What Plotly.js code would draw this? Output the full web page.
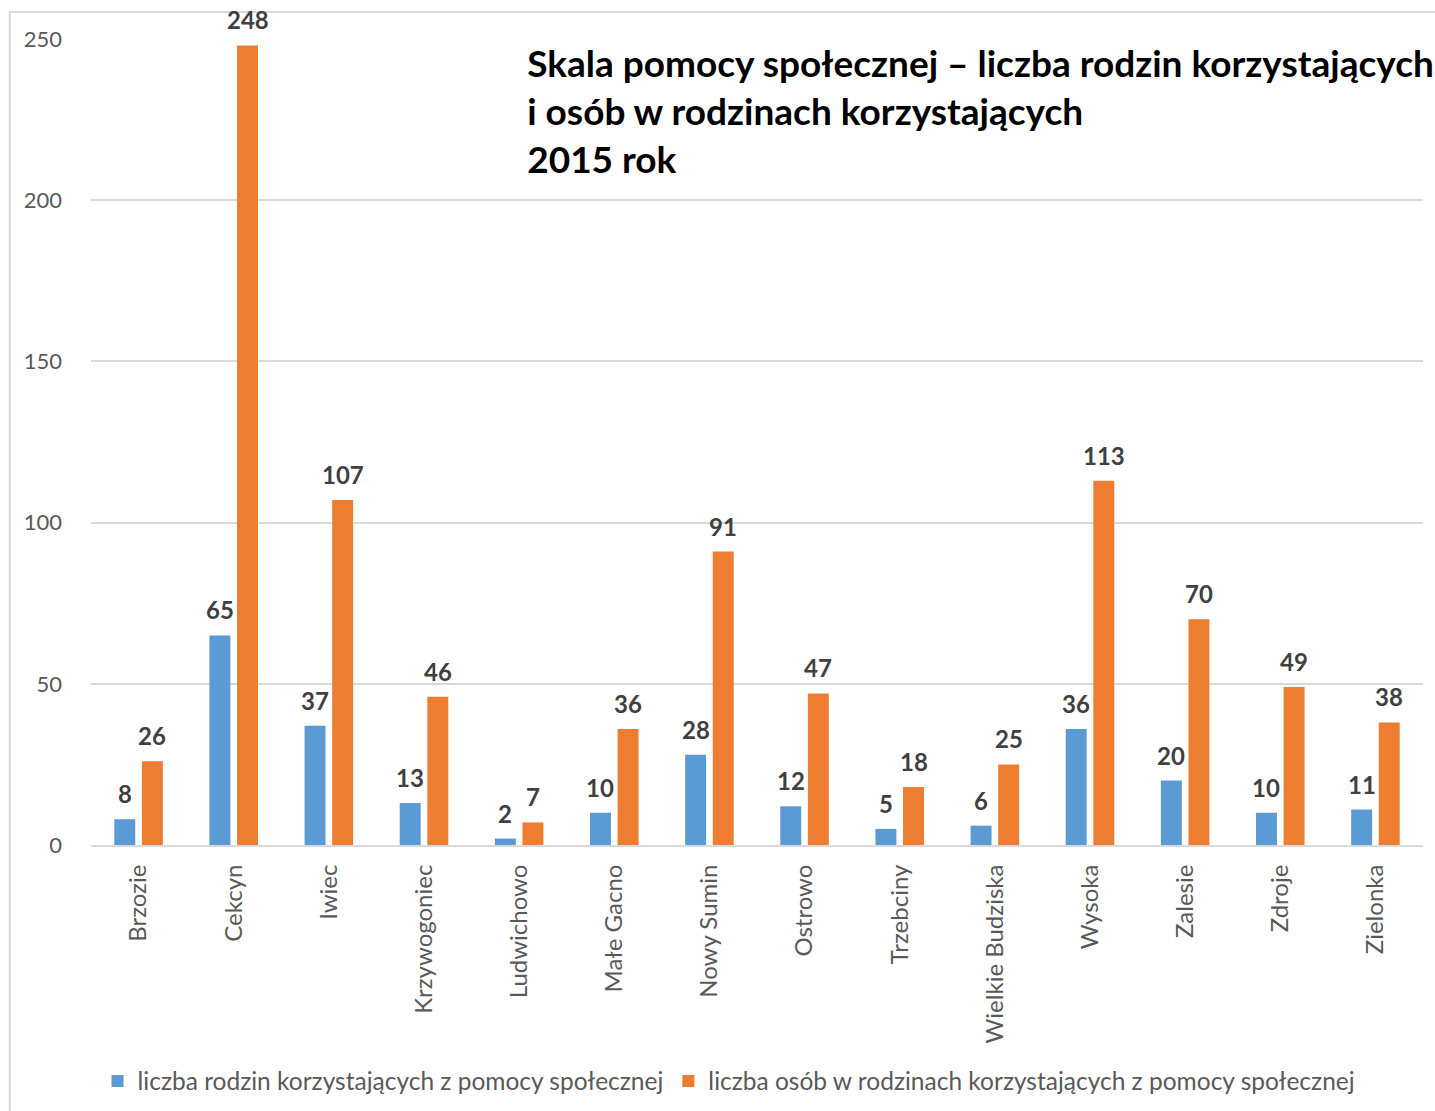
<!DOCTYPE html>
<html>
<head>
<meta charset="utf-8">
<script src="https://cdn.plot.ly/plotly-3.0.1.min.js"></script>
<style>html,body{margin:0;padding:0;background:#fff;}#chart{width:1435px;height:1111px;}</style>
</head>
<body>
<div id="chart"></div>
<script>
const categories = ["Brzozie","Cekcyn","Iwiec","Krzywogoniec","Ludwichowo","Małe Gacno","Nowy Sumin","Ostrowo","Trzebciny","Wielkie Budziska","Wysoka","Zalesie","Zdroje","Zielonka"];
const families = [8,65,37,13,2,10,28,12,5,6,36,20,10,11];
const persons = [26,248,107,46,7,36,91,47,18,25,113,70,49,38];
const seriesNames = ["liczba rodzin korzystających z pomocy społecznej","liczba osób w rodzinach korzystających z pomocy społecznej"];
const yTicks = [0,50,100,150,200,250];
const titleText = "Skala pomocy społecznej – liczba rodzin korzystających<br>i osób w rodzinach korzystających<br>2015 rok";

const FONT = "Lato, 'Open Sans', sans-serif";
const labelFont = {family: FONT, size: 24, color: "#404040", weight: "bold"};

const traces = [
  {type:"bar", name:seriesNames[0], x:categories, y:families, marker:{color:"#5B9BD5"}, hoverinfo:"x+y"},
  {type:"bar", name:seriesNames[1], x:categories, y:persons, marker:{color:"#ED7D31"}, hoverinfo:"x+y"}
];

// value labels placed by the axes' own scales, above each bar of its group
const SHIFT = 13.8;
const annotations = [];
[families, persons].forEach((vals, s) => {
  vals.forEach((v, i) => {
    annotations.push({x:categories[i], y:v, xref:"x", yref:"y", text:String(v), showarrow:false,
      xanchor:"center", yanchor:"bottom", xshift:(s === 0 ? -SHIFT : SHIFT), yshift:9, font:labelFont});
  });
});

const layout = {
  width:1435, height:1111,
  margin:{l:91, r:12, t:39, b:266, autoexpand:false},
  paper_bgcolor:"#fff", plot_bgcolor:"#fff",
  font:{family:FONT, color:"#595959"},
  barmode:"group", bargap:0.42, bargroupgap:0.24,
  title:{text:titleText, font:{family:FONT, size:37, color:"#000", weight:"bold"},
         xref:"paper", x:0.3275, xanchor:"left", yref:"container", y:0.931, yanchor:"top"},
  xaxis:{type:"category", tickangle:-90, tickfont:{family:FONT, size:24, color:"#595959"},
         showline:true, linecolor:"#D9D9D9", linewidth:2, ticks:"", showgrid:false, zeroline:false,
         ticklabelstandoff:8},
  yaxis:{range:[0,250], tickvals:yTicks, ticktext:yTicks.map(String), showgrid:true, gridcolor:"#D9D9D9", gridwidth:2,
         zeroline:false, showline:false, ticks:"", ticklabelstandoff:28, tickfont:{family:FONT, size:22, color:"#595959"}},
  showlegend:true,
  legend:{orientation:"h", x:0.479, xanchor:"center", yref:"container", y:0.027, yanchor:"middle",
          font:{family:FONT, size:24.5, color:"#595959"}, itemwidth:30, traceorder:"normal"},
  annotations: annotations,
  shapes:[{type:"rect", xref:"paper", yref:"paper", x0:-0.061, x1:1.05, y0:-0.35, y1:1.0335,
           line:{color:"#D9D9D9", width:2}, fillcolor:"rgba(0,0,0,0)", layer:"below"}]
};

Plotly.newPlot("chart", traces, layout, {displayModeBar:false, staticPlot:true});
</script>
</body>
</html>
